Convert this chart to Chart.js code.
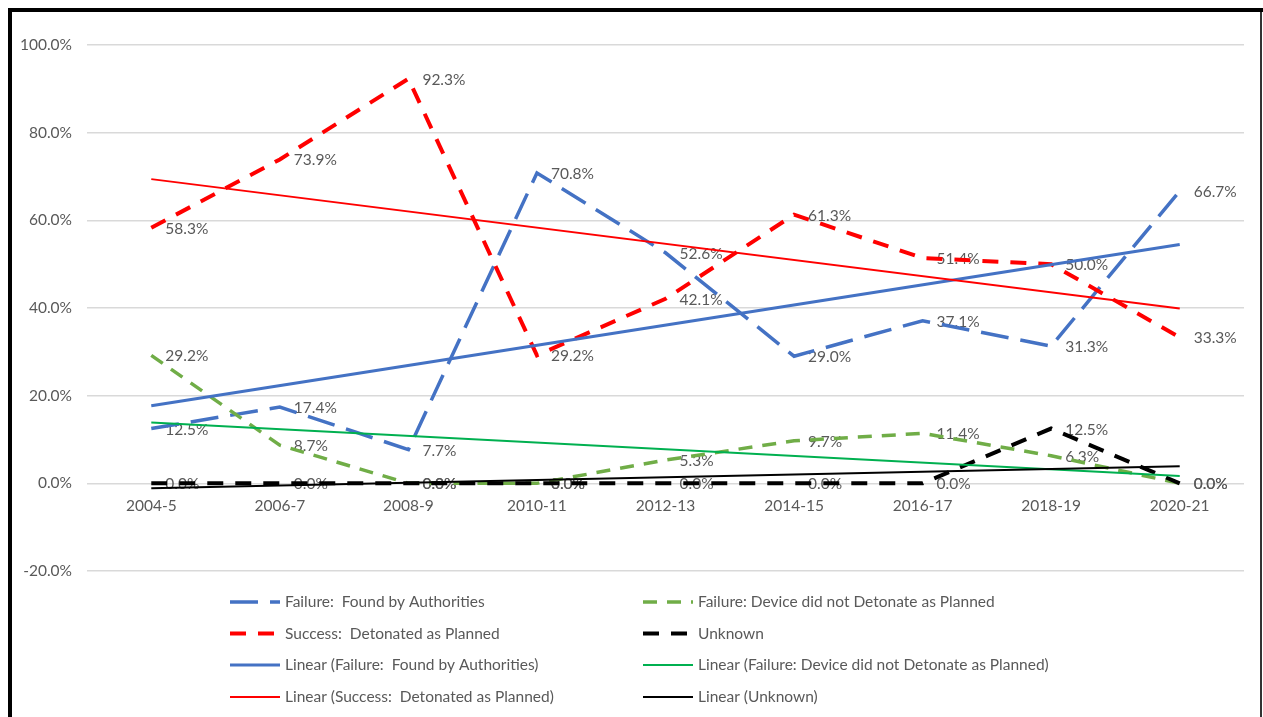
<!DOCTYPE html>
<html>
<head>
<meta charset="utf-8">
<title>Outcomes by year</title>
<script src="https://cdn.jsdelivr.net/npm/chart.js@4.4.1/dist/chart.umd.min.js"></script>
<style>
  html, body { margin: 0; padding: 0; background: #fff; }
</style>
</head>
<body>
<canvas id="outcomeChart" width="1263" height="717"></canvas>
<script>
// Fiscal years on the x axis
const years = ['2004-5', '2006-7', '2008-9', '2010-11', '2012-13', '2014-15', '2016-17', '2018-19', '2020-21'];

// Share of incidents per outcome, in percent
const foundByAuthorities = [12.5, 17.4, 7.7, 70.8, 52.6, 29.0, 37.1, 31.3, 66.7];
const didNotDetonate = [29.2, 8.7, 0.0, 0.0, 5.3, 9.7, 11.4, 6.3, 0.0];
const detonated = [58.3, 73.9, 92.3, 29.2, 42.1, 61.3, 51.4, 50.0, 33.3];
const unknown = [0.0, 0.0, 0.0, 0.0, 0.0, 0.0, 0.0, 12.5, 0.0];

// Linear trend values at the first and last year
const foundTrend = [17.7, 54.5];
const didNotDetonateTrend = [13.9, 1.7];
const detonatedTrend = [69.4, 39.9];
const unknownTrend = [-1.1, 3.9];

const yTicks = [-20, 0, 20, 40, 60, 80, 100];

const textColor = '#595959';
const fontFamily = 'Lato, "Open Sans", sans-serif';
const fontSize = 15.5;

// trend only has values at the two ends, the line spans the gap
function trendData(ends) {
  return years.map((y, i) => {
    if (i === 0) return ends[0];
    if (i === years.length - 1) return ends[1];
    return null;
  });
}

function series(label, data, color, width, dash, order) {
  return {
    label: label,
    data: data,
    borderColor: color,
    backgroundColor: color,
    borderWidth: width,
    borderDash: dash,
    borderCapStyle: 'butt',
    pointRadius: 0,
    tension: 0,
    order: order
  };
}

function trend(label, ends, color, width, order) {
  const ds = series(label, trendData(ends), color, width, [], order);
  ds.spanGaps = true;
  ds.trend = true;
  return ds;
}

// value labels sit right of each point, lines are drawn over them
const valueLabels = {
  id: 'valueLabels',
  beforeDatasetsDraw(chart) {
    const ctx = chart.ctx;
    ctx.save();
    ctx.font = fontSize + 'px ' + fontFamily;
    ctx.fillStyle = textColor;
    ctx.textAlign = 'left';
    ctx.textBaseline = 'middle';
    chart.data.datasets.forEach((ds, i) => {
      if (ds.trend) return;
      chart.getDatasetMeta(i).data.forEach((pt, j) => {
        ctx.fillText(ds.data[j].toFixed(1) + '%', pt.x + 14, pt.y + 1);
      });
    });
    ctx.restore();
  }
};

// two column legend under the plot
const gridLegend = {
  id: 'gridLegend',
  afterDraw(chart) {
    const ctx = chart.ctx;
    const colX = [230, 643];
    const rowY = [602, 633.5, 665, 697];
    ctx.save();
    ctx.font = fontSize + 'px ' + fontFamily;
    ctx.fillStyle = textColor;
    ctx.textBaseline = 'middle';
    chart.data.datasets.forEach((ds, i) => {
      const x = colX[i % 2];
      const y = rowY[Math.floor(i / 2)];
      ctx.beginPath();
      ctx.strokeStyle = ds.borderColor;
      ctx.lineWidth = ds.borderWidth;
      ctx.setLineDash(ds.borderDash);
      ctx.moveTo(x, y);
      ctx.lineTo(x + 50, y);
      ctx.stroke();
      ctx.fillText(ds.label, x + 55, y);
    });
    ctx.restore();
  }
};

// white page with the dark frame round the chart
const frame = {
  id: 'frame',
  beforeDraw(chart) {
    const ctx = chart.ctx;
    ctx.save();
    ctx.fillStyle = '#fff';
    ctx.fillRect(0, 0, chart.width, chart.height);
    ctx.restore();
  },
  afterDraw(chart) {
    const ctx = chart.ctx;
    ctx.save();
    ctx.fillStyle = '#000';
    ctx.fillRect(8, 8, 1255, 4);
    ctx.fillRect(8, 8, 4, chart.height);
    ctx.fillStyle = '#333';
    ctx.fillRect(1260, 12, 2, chart.height);
    ctx.restore();
  }
};

const ctx = document.getElementById('outcomeChart').getContext('2d');
new Chart(ctx, {
  type: 'line',
  data: {
    labels: years,
    datasets: [
      series('Failure:  Found by Authorities', foundByAuthorities, '#4472C4', 3.5, [28, 12], 8),
      series('Failure: Device did not Detonate as Planned', didNotDetonate, '#70AD47', 3.5, [14, 10], 7),
      series('Success:  Detonated as Planned', detonated, '#FF0000', 4, [16, 12], 6),
      series('Unknown', unknown, '#000000', 4, [16, 12], 5),
      trend('Linear (Failure:  Found by Authorities)', foundTrend, '#4472C4', 3, 4),
      trend('Linear (Failure: Device did not Detonate as Planned)', didNotDetonateTrend, '#00B050', 2, 3),
      trend('Linear (Success:  Detonated as Planned)', detonatedTrend, '#FF0000', 2, 2),
      trend('Linear (Unknown)', unknownTrend, '#000000', 2, 1)
    ]
  },
  options: {
    responsive: false,
    animation: false,
    layout: { padding: { left: 0, top: 45, right: 19, bottom: 146 } },
    plugins: {
      legend: { display: false },
      tooltip: { enabled: false }
    },
    scales: {
      x: {
        position: { y: 0 },
        offset: true,
        grid: { display: false, drawTicks: false },
        border: { display: false },
        ticks: {
          color: textColor,
          font: { family: fontFamily, size: fontSize },
          padding: 13,
          maxRotation: 0,
          autoSkip: false
        },
        afterFit: s => { s.height = 20; }
      },
      y: {
        min: -20,
        max: 100,
        grid: { color: '#d9d9d9', lineWidth: 1.5, drawTicks: false },
        border: { display: false },
        ticks: {
          color: textColor,
          font: { family: fontFamily, size: fontSize },
          padding: 15,
          callback: v => v.toFixed(1) + '%'
        },
        afterBuildTicks: s => { s.ticks = yTicks.map(v => ({ value: v })); },
        afterFit: s => { s.width = 87; }
      }
    }
  },
  plugins: [frame, valueLabels, gridLegend]
});
</script>
</body>
</html>
